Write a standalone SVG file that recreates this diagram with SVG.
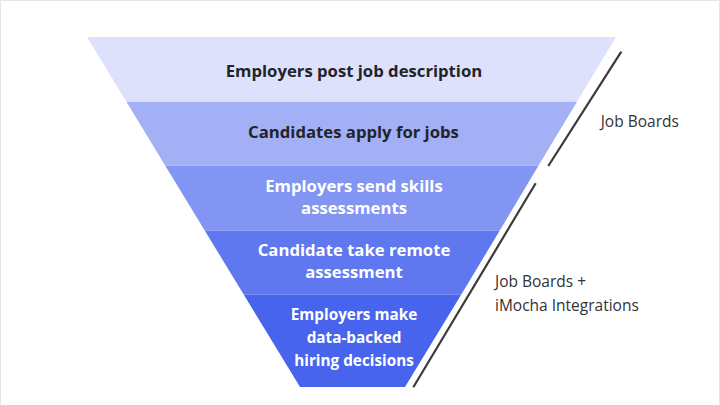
<svg xmlns="http://www.w3.org/2000/svg" width="720" height="405" viewBox="0 0 720 405">
  <style>
    .t { font-family: "Open Sans", "Noto Sans", "DejaVu Sans", sans-serif; font-weight: bold; font-size: 16.7px; text-anchor: middle; }
    .s5 { font-size: 15.3px; }
    .dark { fill: #222428; }
    .light { fill: #ffffff; }
    .side { font-family: "Open Sans", "Noto Sans", "DejaVu Sans", sans-serif; font-size: 15.5px; fill: #333333; }
    .bracket { stroke: #3a3a3a; stroke-width: 2.2; fill: none; }
  </style>
  <rect x="0" y="0" width="720" height="405" fill="#ffffff"/>
  <path d="M0.5 405 V0.5 H719.5 V405" fill="none" stroke="#e5e5e5" stroke-width="1"/>

  <g id="stage1">
    <polygon points="87,37 616,37 577,101.7 126.4,101.7" fill="#dde1fb"/>
    <text class="t dark" x="354" y="76.7">Employers post job description</text>
  </g>
  <g id="stage2">
    <polygon points="126.4,101.7 577,101.7 538.4,165.7 165.3,165.7" fill="#a4b0f5"/>
    <text class="t dark" x="353.5" y="138">Candidates apply for jobs</text>
  </g>
  <g id="stage3">
    <polygon points="165.3,165.7 538.4,165.7 499.8,230.5 204.7,230.5" fill="#8295f2"/>
    <text class="t light" x="354" y="192.3">Employers send skills</text>
    <text class="t light" x="354" y="214">assessments</text>
  </g>
  <g id="stage4">
    <polygon points="204.7,230.5 499.8,230.5 461.3,294.5 243.7,294.5" fill="#5f78ef"/>
    <text class="t light" x="354" y="256">Candidate take remote</text>
    <text class="t light" x="354" y="278.3">assessment</text>
  </g>
  <g id="stage5">
    <polygon points="243.7,294.5 461.3,294.5 405,387 300,387" fill="#4864ec"/>
    <text class="t s5 light" x="354" y="320">Employers make</text>
    <text class="t s5 light" x="354" y="343">data-backed</text>
    <text class="t s5 light" x="354" y="365.5">hiring decisions</text>
  </g>

  <g id="connectors">
    <line class="bracket" x1="621.3" y1="51.7" x2="548.3" y2="166"/>
    <line class="bracket" x1="535.7" y1="183.3" x2="413.3" y2="387.3"/>
  </g>

  <g id="label-jobboards">
    <text class="side" x="600.7" y="127.3">Job Boards</text>
  </g>
  <g id="label-integrations">
    <text class="side" x="495" y="286.7">Job Boards +</text>
    <text class="side" x="495" y="310.7">iMocha Integrations</text>
  </g>
</svg>
